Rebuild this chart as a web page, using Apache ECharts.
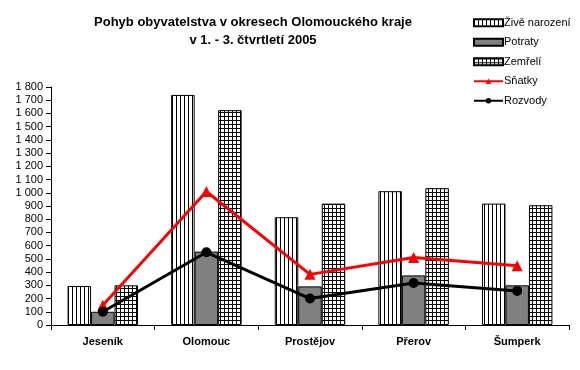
<!DOCTYPE html>
<html>
<head>
<meta charset="utf-8">
<script src="https://cdn.jsdelivr.net/npm/echarts@6/dist/echarts.min.js"></script>
<style>
html,body{margin:0;padding:0;background:#fff;}
#chart{width:580px;height:370px;}
</style>
</head>
<body>
<div id="chart"></div>
<script>
var categories = ['Jeseník', 'Olomouc', 'Prostějov', 'Přerov', 'Šumperk'];
var zivenarozeni = [295, 1740, 815, 1012, 918];
var potraty = [100, 555, 292, 375, 300];
var zemreli = [300, 1625, 918, 1035, 906];
var snatky = [150, 1010, 383, 510, 448];
var rozvody = [100, 550, 200, 317, 258];
var yTicks = [0, 1800, 100];

function stripePattern() {
  var c = document.createElement('canvas');
  c.width = 4; c.height = 4;
  var g = c.getContext('2d');
  g.fillStyle = '#fff'; g.fillRect(0, 0, 4, 4);
  g.fillStyle = '#000'; g.fillRect(0, 0, 1, 4);
  return c;
}
function gridPattern() {
  var c = document.createElement('canvas');
  c.width = 4; c.height = 4;
  var g = c.getContext('2d');
  g.fillStyle = '#fff'; g.fillRect(0, 0, 4, 4);
  g.fillStyle = '#000'; g.fillRect(0, 0, 1, 4); g.fillRect(0, 0, 4, 1);
  return c;
}
var font = 'Liberation Sans, Arial, sans-serif';
var chart = echarts.init(document.getElementById('chart'), null, {renderer: 'canvas'});
chart.setOption({
  animation: false,
  backgroundColor: '#fff',
  textStyle: {fontFamily: font},
  title: {
    text: 'Pohyb obyvatelstva v okresech Olomouckého kraje\nv 1. - 3. čtvrtletí 2005',
    left: 248, top: 8, textAlign: 'center',
    textStyle: {fontFamily: font, fontSize: 13, fontWeight: 'bold', color: '#000', lineHeight: 18}
  },
  legend: {
    orient: 'vertical', left: 473, top: 16, padding: 0,
    itemWidth: 29, itemHeight: 7, itemGap: 6,
    textStyle: {fontFamily: font, fontSize: 11, color: '#000', padding: [0, 0, 0, -4], lineHeight: 13.5},
    data: [
      {name: 'Živě narození', icon: 'rect'},
      {name: 'Potraty', icon: 'rect'},
      {name: 'Zemřelí', icon: 'rect'},
      {name: 'Sňatky'},
      {name: 'Rozvody'}
    ]
  },
  grid: {left: 51, right: 11, top: 87, bottom: 45, containLabel: false},
  xAxis: {
    type: 'category', data: categories,
    axisLine: {lineStyle: {color: '#000', width: 1}},
    axisTick: {show: true, length: 5, lineStyle: {color: '#000'}, alignWithLabel: false},
    axisLabel: {fontFamily: font, fontSize: 11, fontWeight: 'bold', color: '#000', margin: 11},
    splitLine: {show: false}
  },
  yAxis: {
    type: 'value', min: yTicks[0], max: yTicks[1], interval: yTicks[2],
    axisLine: {show: true, lineStyle: {color: '#000', width: 1}},
    axisTick: {show: true, length: 5, lineStyle: {color: '#000'}},
    axisLabel: {
      fontFamily: font, fontSize: 11, color: '#000', margin: 8,
      formatter: function (v) { return String(v).replace(/\B(?=(\d{3})+(?!\d))/g, ' '); }
    },
    splitLine: {show: false}
  },
  series: [
    {name: 'Živě narození', type: 'bar', data: zivenarozeni, barGap: '0%', barCategoryGap: '32%',
     itemStyle: {color: {image: stripePattern(), repeat: 'repeat'}, borderColor: '#000', borderWidth: 1}},
    {name: 'Potraty', type: 'bar', data: potraty, barGap: '0%', barCategoryGap: '32%',
     itemStyle: {color: '#808080', borderColor: '#000', borderWidth: 1}},
    {name: 'Zemřelí', type: 'bar', data: zemreli, barGap: '0%', barCategoryGap: '32%',
     itemStyle: {color: {image: gridPattern(), repeat: 'repeat'}, borderColor: '#000', borderWidth: 1}},
    {name: 'Sňatky', type: 'line', data: snatky, symbol: 'triangle', symbolSize: 11, z: 5,
     lineStyle: {color: '#ff0000', width: 3}, itemStyle: {color: '#ff0000'}},
    {name: 'Rozvody', type: 'line', data: rozvody, symbol: 'circle', symbolSize: 10, z: 6,
     lineStyle: {color: '#000', width: 3}, itemStyle: {color: '#000'}}
  ]
});
</script>
</body>
</html>
